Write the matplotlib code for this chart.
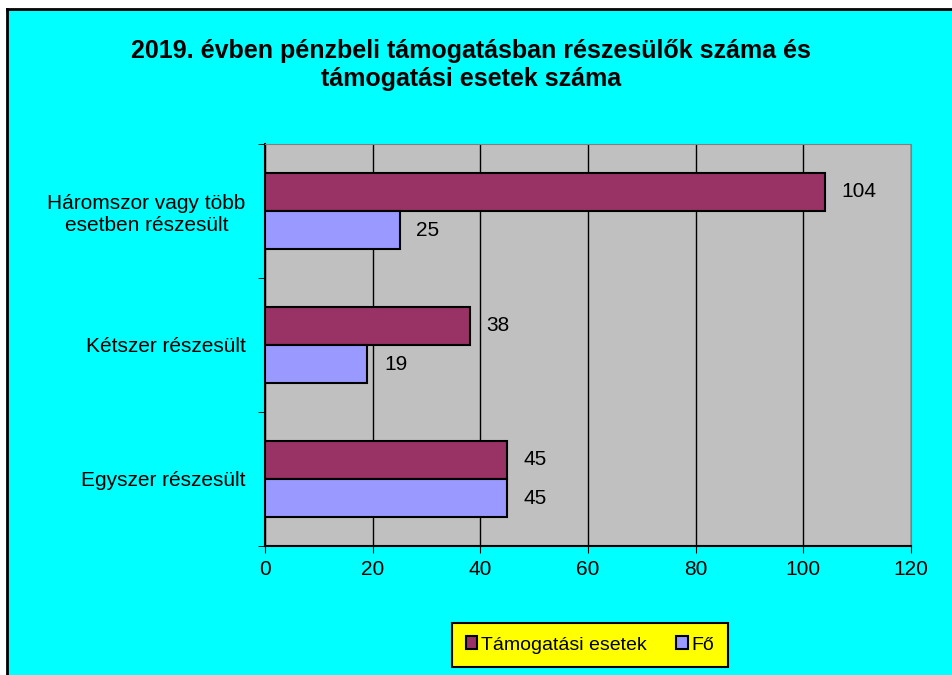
import numpy as np
import matplotlib.pyplot as plt
from matplotlib.patches import Rectangle
from matplotlib.lines import Line2D

plt.rcParams['font.family'] = ['Liberation Sans', 'DejaVu Sans']

categories = ['Egyszer részesült', 'Kétszer részesült', 'Háromszor vagy több\nesetben részesült']
esetek = [45, 38, 104]
fo = [45, 19, 25]

fig = plt.figure(figsize=(9.53, 6.75), dpi=100, facecolor='white')

# cyan chart area with black border on the left and top
W, H = 953, 675
fig.add_artist(Rectangle((7 / W, 0), 1, 1 - 9 / H, transform=fig.transFigure,
                         facecolor='#00FFFF', edgecolor='none', zorder=-10))
fig.add_artist(Line2D([7 / W, 7 / W], [0, 1 - 9 / H], color='black', lw=2, transform=fig.transFigure))
fig.add_artist(Line2D([7 / W, 1], [1 - 9 / H, 1 - 9 / H], color='black', lw=2, transform=fig.transFigure))

ax = fig.add_axes([265 / W, 1 - 546 / H, (911 - 265) / W, (546 - 144) / H])
ax.set_facecolor('#C0C0C0')

y = np.arange(len(categories))
h = 0.287
b1 = ax.barh(y + h / 2, esetek, height=h, color='#993366', edgecolor='black', linewidth=1.5,
             label='Támogatási esetek', zorder=3)
b2 = ax.barh(y - h / 2, fo, height=h, color='#9999FF', edgecolor='black', linewidth=1.5,
             label='Fő', zorder=3)

for bars, vals in ((b1, esetek), (b2, fo)):
    for bar, v in zip(bars, vals):
        ax.annotate(str(v), (v, bar.get_y() + bar.get_height() / 2), xytext=(12, 0),
                    textcoords='offset points', va='center', ha='left', fontsize=15, zorder=4)

ax.set_xlim(0, 120)
ax.set_ylim(-0.5, 2.5)
ax.set_xticks(range(0, 121, 20))
ax.set_yticks(y)
ax.set_yticklabels(categories, fontsize=15, ha='right', multialignment='center')
ax.tick_params(axis='y', length=0, pad=14)
ax.tick_params(axis='x', labelsize=15, length=5, direction='out', pad=5)
# minor ticks at the category boundaries
ax.set_yticks([-0.5, 0.5, 1.5, 2.5], minor=True)
ax.tick_params(axis='y', which='minor', length=5, direction='out')

ax.xaxis.grid(True, color='black', linewidth=1, zorder=1)
ax.set_axisbelow(True)
for s in ('top', 'right'):
    ax.spines[s].set_color('#808080')
for s in ('left', 'bottom'):
    ax.spines[s].set_color('black')
    ax.spines[s].set_linewidth(1.5)

fig.text(471 / W, 1 - 65 / H, '2019. évben pénzbeli támogatásban részesülők száma és\ntámogatási esetek száma',
         ha='center', va='center', fontsize=18, fontweight='bold', linespacing=1.2)

leg = fig.legend(handles=[b1, b2], loc='center', bbox_to_anchor=(590 / W, 1 - 645 / H), ncol=2,
                 fontsize=14, frameon=True, fancybox=False, facecolor='#FFFF00', edgecolor='black',
                 handlelength=0.6, handleheight=0.6, handletextpad=0.2, columnspacing=1.5,
                 borderpad=0.7)
leg.get_frame().set_linewidth(1.5)
leg.get_frame().set_alpha(None)

fig.savefig('out.png', dpi=100, facecolor=fig.get_facecolor())
